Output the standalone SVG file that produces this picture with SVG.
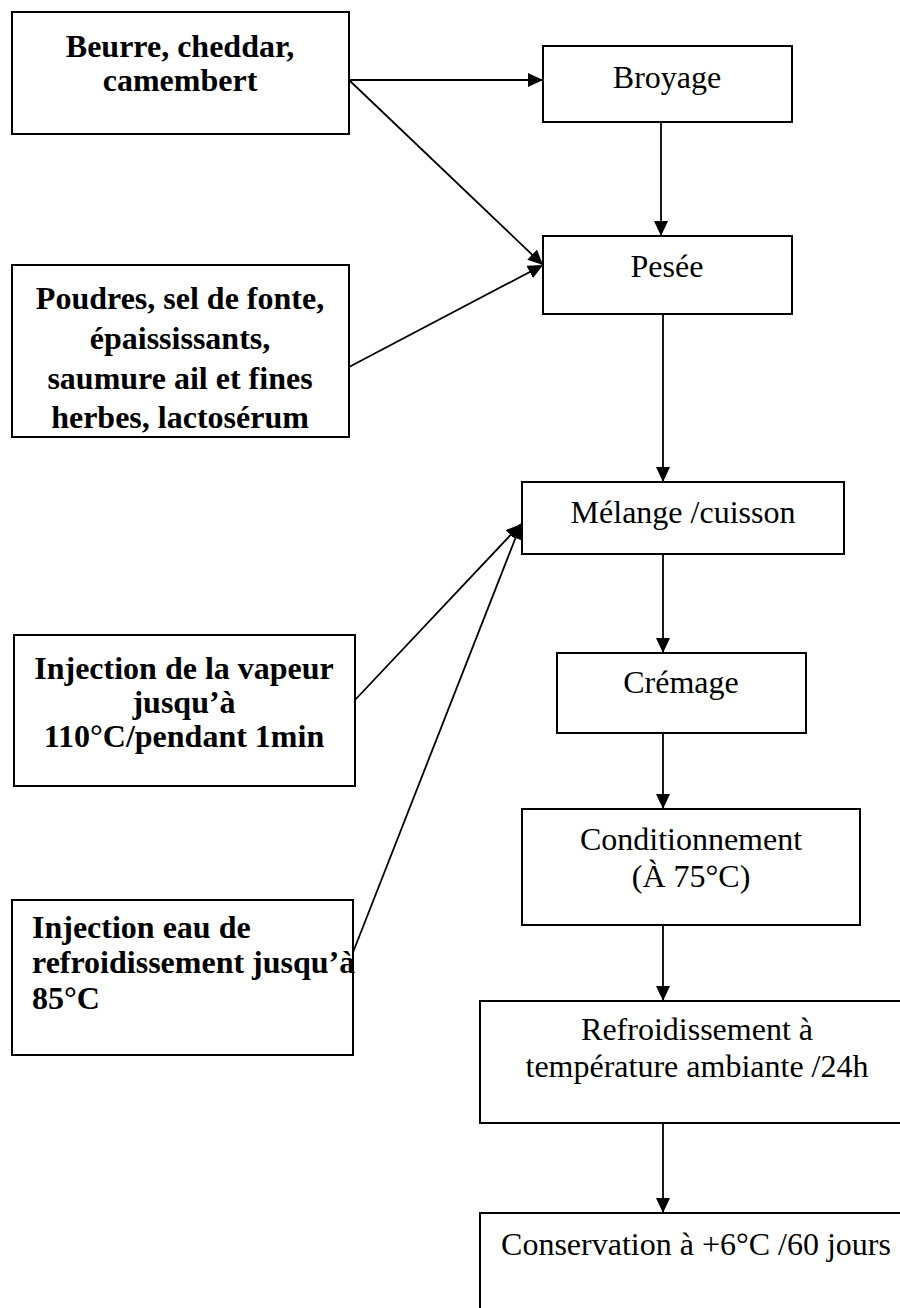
<svg xmlns="http://www.w3.org/2000/svg" width="900" height="1308" viewBox="0 0 900 1308">
<defs>
<marker id="ah" markerWidth="15" markerHeight="14" refX="15" refY="7" orient="auto" markerUnits="userSpaceOnUse">
<path d="M0,0 L15,7 L0,14 Z" fill="#000"/>
</marker>
<style>
.box{fill:#fff;stroke:#000;stroke-width:2}
.b{font-family:"Liberation Serif","Times New Roman",serif;font-weight:bold;font-size:32px;fill:#000}
.r{font-family:"Liberation Serif","Times New Roman",serif;font-size:32px;fill:#000}
.c{text-anchor:middle}
.ln{stroke:#000;stroke-width:1.8;fill:none}
.ar{marker-end:url(#ah)}
</style>
</defs>
<rect width="900" height="1308" fill="#fff"/>
<g id="connectors">
<line class="ln ar" x1="349" y1="80" x2="543" y2="80"/>
<line class="ln ar" x1="349" y1="80" x2="543" y2="265"/>
<line class="ln ar" x1="349" y1="367" x2="543" y2="265"/>
<line class="ln ar" x1="661" y1="122" x2="661" y2="236"/>
<line class="ln ar" x1="663" y1="314" x2="663" y2="482"/>
<line class="ln ar" x1="355" y1="700" x2="521" y2="524"/>
<line class="ln ar" x1="350" y1="960" x2="521" y2="524"/>
<line class="ln ar" x1="663" y1="554" x2="663" y2="653"/>
<line class="ln ar" x1="663" y1="733" x2="663" y2="809"/>
<line class="ln ar" x1="663" y1="925" x2="663" y2="1001"/>
<line class="ln ar" x1="663" y1="1123" x2="663" y2="1213"/>
</g>
<g id="n-beurre">
<rect class="box" x="12" y="12" width="337" height="122"/>
<text class="b c" x="180" y="57">Beurre, cheddar,</text>
<text class="b c" x="180" y="91">camembert</text>
</g>
<g id="n-broyage">
<rect class="box" x="543" y="46" width="249" height="76"/>
<text class="r c" x="667" y="88">Broyage</text>
</g>
<g id="n-poudres">
<rect class="box" x="12" y="265" width="337" height="172"/>
<text class="b c" x="180" y="309">Poudres, sel de fonte,</text>
<text class="b c" x="180" y="349">épaississants,</text>
<text class="b c" x="180" y="389">saumure ail et fines</text>
<text class="b c" x="180" y="428">herbes, lactosérum</text>
</g>
<g id="n-pesee">
<rect class="box" x="543" y="236" width="249" height="78"/>
<text class="r c" x="667" y="277">Pesée</text>
</g>
<g id="n-melange">
<rect class="box" x="522" y="482" width="322" height="72"/>
<text class="r c" x="683" y="523">Mélange /cuisson</text>
</g>
<g id="n-vapeur">
<rect class="box" x="14" y="635" width="341" height="151"/>
<text class="b c" x="184" y="679">Injection de la vapeur</text>
<text class="b c" x="184" y="713">jusqu’à</text>
<text class="b c" x="184" y="747">110°C/pendant 1min</text>
</g>
<g id="n-cremage">
<rect class="box" x="557" y="653" width="249" height="80"/>
<text class="r c" x="681" y="693">Crémage</text>
</g>
<g id="n-conditionnement">
<rect class="box" x="522" y="809" width="338" height="116"/>
<text class="r c" x="691" y="850">Conditionnement</text>
<text class="r c" x="691" y="887">(À 75°C)</text>
</g>
<g id="n-eau">
<rect class="box" x="12" y="900" width="341" height="155"/>
<text class="b" x="32" y="938" font-size="29">Injection eau de</text>
<text class="b" x="32" y="973" font-size="29">refroidissement jusqu’à</text>
<text class="b" x="32" y="1009" font-size="29">85°C</text>
</g>
<g id="n-refroidissement">
<rect class="box" x="480" y="1001" width="440" height="122"/>
<text class="r c" x="697" y="1040">Refroidissement à</text>
<text class="r c" x="697" y="1077">température ambiante /24h</text>
</g>
<g id="n-conservation">
<rect class="box" x="480" y="1213" width="440" height="120"/>
<text class="r c" x="696" y="1255">Conservation à +6°C /60 jours</text>
</g>
</svg>
